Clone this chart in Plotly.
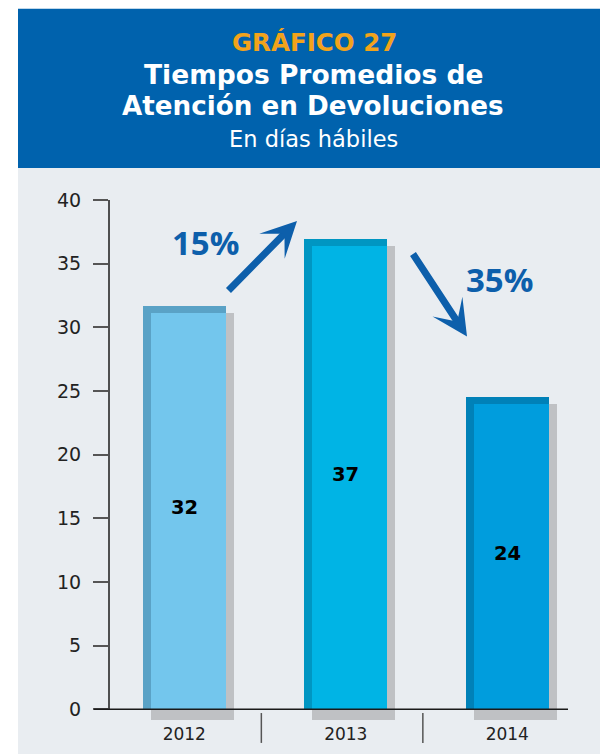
import plotly.graph_objects as go

# ---- data ----
years = ["2012", "2013", "2014"]
values = [31.7, 36.9, 24.5]
value_labels = ["32", "37", "24"]
light_colors = ["#73c6ed", "#00b4e5", "#009ddd"]
dark_colors = ["#5aa2c6", "#0096c2", "#0081b8"]
y_ticks = [0, 5, 10, 15, 20, 25, 30, 35, 40]
changes = ["15%", "35%"]

W, H = 600, 756
ML, MR, MT, MB = 109, 32, 200, 32
PW, PH = W - ML - MR, H - MT - MB
XMIN, XMAX = -0.466, 2.376
YMIN, YMAX = -1.0, 40.0

def px(x):
    return (x - ML) / PW

def py(y):
    return (H - MB - y) / PH

def dx(v):  # data x -> paper
    return (v - XMIN) / (XMAX - XMIN)

def dy(v):
    return (v - YMIN) / (YMAX - YMIN)

xs = list(range(len(years)))
bw = 0.514
sx = 8 / PW * (XMAX - XMIN)            # 8px in x units
sy = 7 / PH * (YMAX - YMIN)            # 7px in y units
shadow_base = -0.85

fig = go.Figure()
# shadow
fig.add_trace(go.Bar(
    x=xs, y=[v - sy - shadow_base for v in values], base=shadow_base,
    width=bw, offset=-bw / 2 + sx, marker=dict(color="#bfc1c4", line_width=0),
    hoverinfo="skip", showlegend=False))
# dark bar
fig.add_trace(go.Bar(
    x=xs, y=values, base=0, width=bw, offset=-bw / 2,
    marker=dict(color=dark_colors, line_width=0), showlegend=False))
# light bar
fig.add_trace(go.Bar(
    x=xs, y=[v - sy for v in values], base=0, width=bw - sx, offset=-bw / 2 + sx,
    marker=dict(color=light_colors, line_width=0), showlegend=False))

font = "DejaVu Sans"
pfont = "Open Sans"
shapes = [
    dict(type="rect", xref="paper", yref="paper", x0=px(18), x1=px(600), y0=py(756), y1=py(168),
         fillcolor="#e9edf1", line_width=0, layer="below"),
    dict(type="rect", xref="paper", yref="paper", x0=px(18), x1=px(600), y0=py(168), y1=py(8),
         fillcolor="#0062ad", line_width=0, layer="below"),
    # y axis line
    dict(type="line", xref="paper", yref="paper", x0=0, x1=0, y0=dy(0), y1=dy(40),
         line=dict(color="#1a1a1a", width=1.5)),
    # x axis line
    dict(type="line", xref="paper", yref="paper", x0=px(94), x1=1, y0=dy(0), y1=dy(0),
         line=dict(color="#1a1a1a", width=1.5)),
]
for b in [0.5, 1.5]:
    shapes.append(dict(type="line", xref="paper", yref="paper", x0=dx(b) - 0.008, x1=dx(b) - 0.008,
                       y0=py(715), y1=py(745), line=dict(color="#555555", width=1.5)))

def txt(text, x, y, size, color, family=font):
    return dict(text=text, x=px(x), y=py(y), xref="paper", yref="paper", showarrow=False,
                xanchor="center", yanchor="middle", font=dict(family=family, size=size, color=color))

annotations = [
    txt("<b>GRÁFICO 27</b>", 314, 42, 24.5, "#f2a31b"),
    txt("<b>Tiempos Promedios de</b>", 313, 74, 26.5, "white"),
    txt("<b>Atención en Devoluciones</b>", 313, 106, 26.2, "white"),
    txt("En días hábiles", 313, 139, 22.5, "white"),
    txt("<b>" + changes[0] + "</b>", 205, 243, 33, "#0d5fab", pfont),
    txt("<b>" + changes[1] + "</b>", 499, 280, 33, "#0d5fab", pfont),
    # arrows
    dict(text="", x=px(297), y=py(221), xref="paper", yref="paper", showarrow=True,
         ax=-70, ay=71, arrowhead=3, arrowsize=0.85, arrowwidth=7, arrowcolor="#0d5fab"),
    dict(text="", x=px(467), y=py(337), xref="paper", yref="paper", showarrow=True,
         ax=-55, ay=-84, arrowhead=3, arrowsize=0.85, arrowwidth=7, arrowcolor="#0d5fab"),
]
for i, (v, lab) in enumerate(zip(values, value_labels)):
    annotations.append(dict(text="<b>" + lab + "</b>", x=i, y=v / 2, xref="x", yref="y",
                            showarrow=False, font=dict(family=font, size=19.5, color="black")))

fig.update_layout(
    width=W, height=H,
    margin=dict(l=ML, r=MR, t=MT, b=MB, pad=0),
    paper_bgcolor="white", plot_bgcolor="#e9edf1",
    barmode="overlay", bargap=0,
    shapes=shapes, annotations=annotations,
    xaxis=dict(range=[XMIN, XMAX], tickvals=xs, ticktext=years, showgrid=False, zeroline=False,
               showline=False, ticks="", tickfont=dict(family=font, size=17, color="#222222")),
    yaxis=dict(range=[YMIN, YMAX], tickvals=y_ticks, showgrid=False, zeroline=False, showline=False,
               ticks="outside", ticklen=15, tickwidth=1.5, tickcolor="#555555",
               ticklabelstandoff=8,
               tickfont=dict(family=font, size=19, color="#222222")),
    showlegend=False,
)

fig.write_html("out.html", config={"displayModeBar": False},
               post_script="document.body.style.margin='0px';")
